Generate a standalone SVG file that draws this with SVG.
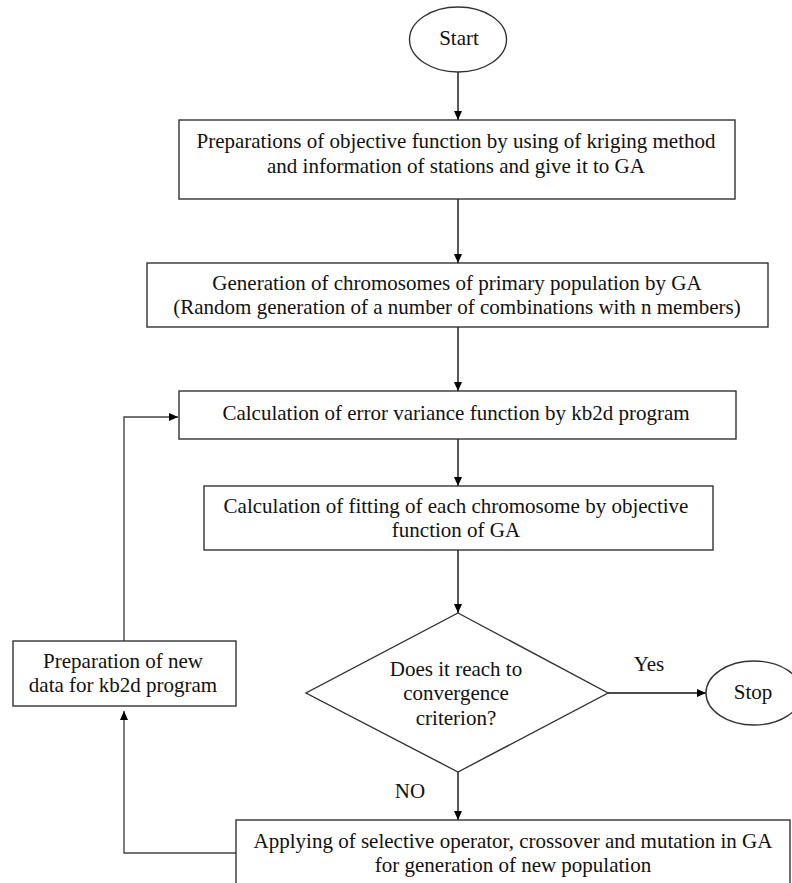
<svg xmlns="http://www.w3.org/2000/svg" width="792" height="883" viewBox="0 0 792 883">
<defs>
<marker id="ah" markerUnits="userSpaceOnUse" markerWidth="10" markerHeight="10" refX="9" refY="4" orient="auto">
<path d="M0,0 L9,4 L0,8 Z" fill="#000"/>
</marker>
<style>
.shape{fill:#fff;stroke:#333;stroke-width:1.4}
.lbl{font-family:"Liberation Serif","Times New Roman",serif;font-size:21px;fill:#111;text-anchor:middle}
.edge{fill:none;stroke:#111;stroke-width:1.4;marker-end:url(#ah)}
.loop{fill:none;stroke:#444;stroke-width:1.4}
</style>
</defs>
<rect width="792" height="883" fill="#fff"/>
<g id="connectors">
<line class="edge" x1="458" y1="72" x2="458" y2="120"/>
<line class="edge" x1="458" y1="199" x2="458" y2="263"/>
<line class="edge" x1="458" y1="327" x2="458" y2="391"/>
<line class="edge" x1="458" y1="439" x2="458" y2="486"/>
<line class="edge" x1="458" y1="550" x2="458" y2="613"/>
<line class="edge" x1="608" y1="693" x2="706" y2="693"/>
<line class="edge" x1="458" y1="772" x2="458" y2="820"/>
<polyline class="loop" points="236,853 124,853 124,711" marker-end="url(#ah)"/>
<polyline class="loop" points="124,641 124,417 178,417" marker-end="url(#ah)"/>
<text class="lbl" x="649" y="671" font-size="19">Yes</text>
<text class="lbl" x="410" y="798" font-size="19">NO</text>
</g>
<g id="start">
<ellipse class="shape" cx="458" cy="39.5" rx="48.5" ry="32.5"/>
<text class="lbl" x="459" y="45">Start</text>
</g>
<g id="box1">
<rect class="shape" x="179" y="120" width="556" height="79"/>
<text class="lbl" x="456" y="148">Preparations of objective function by using of kriging method</text>
<text class="lbl" x="456" y="173">and information of stations and give it to GA</text>
</g>
<g id="box2">
<rect class="shape" x="147" y="263" width="621" height="64"/>
<text class="lbl" x="457" y="290">Generation of chromosomes of primary population by GA</text>
<text class="lbl" x="457" y="314">(Random generation of a number of combinations with n members)</text>
</g>
<g id="box3">
<rect class="shape" x="179" y="391" width="557" height="48"/>
<text class="lbl" x="456" y="420">Calculation of error variance function by kb2d program</text>
</g>
<g id="box4">
<rect class="shape" x="204" y="486" width="509" height="64"/>
<text class="lbl" x="456" y="513">Calculation of fitting of each chromosome by objective</text>
<text class="lbl" x="456" y="537">function of GA</text>
</g>
<g id="decision">
<polygon class="shape" points="458,613 608,693 458,772 306,693"/>
<text class="lbl" x="456" y="676">Does it reach to</text>
<text class="lbl" x="456" y="700">convergence</text>
<text class="lbl" x="456" y="725">criterion?</text>
</g>
<g id="stop">
<ellipse class="shape" cx="754" cy="693" rx="48" ry="32"/>
<text class="lbl" x="753" y="699">Stop</text>
</g>
<g id="newdata">
<rect class="shape" x="13" y="641" width="223" height="65"/>
<text class="lbl" x="123" y="668">Preparation of new</text>
<text class="lbl" x="123" y="692">data for kb2d program</text>
</g>
<g id="operators">
<rect class="shape" x="236" y="820" width="554" height="80"/>
<text class="lbl" x="513" y="848">Applying of selective operator, crossover and mutation in GA</text>
<text class="lbl" x="513" y="872">for generation of new population</text>
</g>
</svg>
